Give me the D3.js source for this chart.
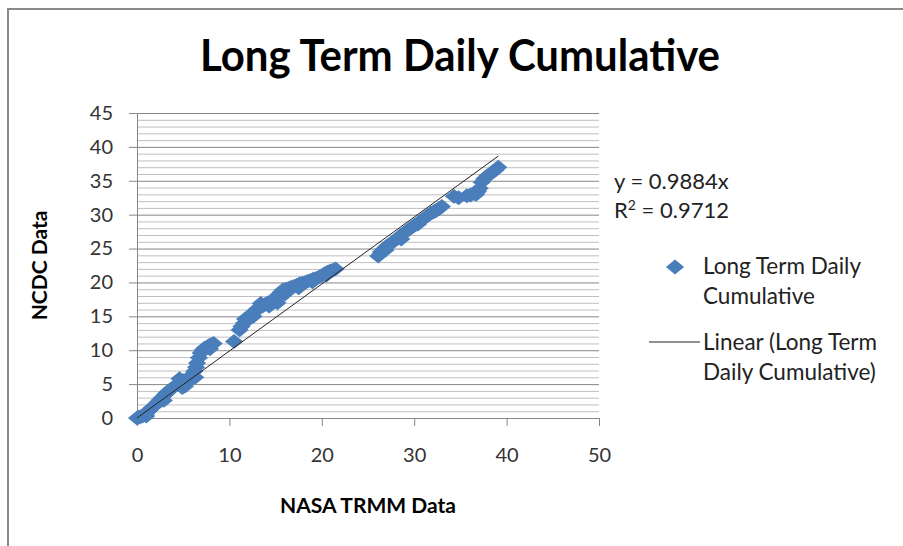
<!DOCTYPE html>
<html>
<head>
<meta charset="utf-8">
<script src="https://cdn.jsdelivr.net/npm/d3@7.9.0/dist/d3.min.js"></script>
<style>
  body { margin: 0; background: #fff; }
  svg { display: block; font-family: Lato, "Open Sans", sans-serif; }
</style>
</head>
<body>
<svg id="chart" width="903" height="546"></svg>
<script>
// values
const nasaTrmm = [0, 0.2, 0.4, 0.6, 0.9, 1.1, 1.3, 1.5, 1.8, 2.0, 2.3, 2.5, 2.7, 3.0, 3.2, 3.4, 3.7, 4.3, 4.6, 4.9,
  5.2, 5.5, 5.7, 5.9, 6.2, 6.4, 6.5, 6.7, 6.9, 7.1, 7.3, 7.6, 7.8, 8.1, 8.3, 10.5, 11.1, 11.3, 11.6, 11.9,
  12.1, 12.4, 12.7, 13.0, 13.3, 13.6, 13.9, 14.2, 14.5, 14.8, 15.1, 15.3, 15.6, 15.8, 16.1, 16.4, 16.7, 17.0, 17.3, 17.6,
  17.9, 18.2, 18.5, 18.8, 19.1, 19.4, 19.7, 20.0, 20.3, 20.6, 20.9, 21.2, 21.5, 26.1, 26.4, 26.7, 27.0, 27.3, 27.6, 27.9,
  28.2, 28.5, 28.8, 29.1, 29.4, 29.7, 30.0, 30.3, 30.6, 30.9, 31.2, 31.5, 31.8, 32.1, 32.4, 32.7, 33.0, 34.3, 34.8, 35.7,
  36.1, 36.5, 36.9, 37.1, 37.3, 37.6, 37.9, 38.2, 38.5, 38.8, 39.1,
  1.0, 2.9, 5.0, 6.3, 7.9, 11.7, 12.6, 13.4, 14.3, 15.2, 16.0, 17.5, 19.0, 20.5, 26.9, 28.6, 30.4, 32.3, 36.7];
const ncdc = [0, 0.1, 0.2, 0.3, 0.5, 0.8, 1.1, 1.4, 1.7, 2.0, 2.4, 2.7, 3.0, 3.4, 3.7, 3.9, 4.3, 4.9, 5.8, 4.5,
  4.7, 5.3, 5.8, 6.3, 6.9, 7.5, 8.1, 8.9, 9.6, 10.0, 10.3, 10.5, 10.7, 10.9, 11.0, 11.3, 13.0, 13.5, 14.0, 14.4,
  14.8, 15.3, 15.7, 16.1, 16.3, 16.5, 16.8, 17.0, 17.2, 17.4, 17.7, 18.2, 18.6, 18.9, 19.0, 19.1, 19.3, 19.4, 19.6, 19.8,
  19.9, 20.0, 20.2, 20.3, 20.5, 20.6, 20.8, 21.0, 21.3, 21.5, 21.7, 21.8, 22.0, 23.9, 24.5, 24.9, 25.3, 25.6, 25.9, 26.2,
  26.5, 26.9, 27.2, 27.5, 27.8, 28.1, 28.4, 28.6, 29.0, 29.3, 29.6, 29.9, 30.2, 30.4, 30.6, 30.9, 31.2, 32.7, 32.5, 32.8,
  32.9, 33.1, 33.4, 33.9, 34.8, 35.3, 35.7, 36.0, 36.3, 36.6, 37.0,
  0.3, 2.6, 5.5, 6.0, 10.2, 14.6, 15.0, 16.9, 16.5, 17.0, 18.3, 19.2, 20.1, 21.1, 24.8, 26.4, 28.6, 30.6, 33.0];
const xTicks = [0, 10, 20, 30, 40, 50];
const yTicks = [0, 5, 10, 15, 20, 25, 30, 35, 40, 45];
const slope = 0.9884;
const rSquared = 0.9712;
const seriesName = 'Long Term Daily Cumulative';

const points = nasaTrmm.map((x, i) => ({ x, y: ncdc[i] }));

const svg = d3.select('#chart');
const blue = '#4a7ebb';

const x = d3.scaleLinear().domain([0, 50]).range([137, 599]);
const y = d3.scaleLinear().domain([0, 45]).range([418, 113]);

// chart frame (only left and top edges show)
svg.append('path')
  .attr('d', 'M8,546V9H903')
  .attr('fill', 'none')
  .attr('stroke', '#8a8a8a')
  .attr('stroke-width', 2);

// minor gridlines every 1 unit, major every 5
svg.append('g')
  .attr('transform', `translate(${x(0)},0)`)
  .call(d3.axisLeft(y).tickValues(y.ticks(45).filter(d => d % 5 !== 0)).tickSize(-(x(50) - x(0))).tickFormat(''))
  .call(g => g.select('.domain').remove())
  .call(g => g.selectAll('line').attr('stroke', '#bfbfbf'));

svg.append('g')
  .attr('transform', `translate(${x(0)},0)`)
  .call(d3.axisLeft(y).tickValues(yTicks.slice(1)).tickSize(-(x(50) - x(0))).tickFormat(''))
  .call(g => g.select('.domain').remove())
  .call(g => g.selectAll('line').attr('stroke', '#868686'));

// y axis
svg.append('g')
  .attr('transform', `translate(${x(0)},0)`)
  .call(d3.axisLeft(y).tickValues(yTicks).tickSize(8).tickSizeOuter(0).tickPadding(16))
  .call(g => g.select('.domain').attr('stroke', '#868686'))
  .call(g => g.selectAll('line').attr('stroke', '#868686'))
  .call(g => g.selectAll('text').attr('fill', '#333').style('font-size', '20px').style('font-family', 'Lato'));

// x axis
svg.append('g')
  .attr('transform', `translate(0,${y(0)})`)
  .call(d3.axisBottom(x).tickValues(xTicks).tickSize(8).tickSizeOuter(0).tickPadding(22))
  .call(g => g.select('.domain').attr('stroke', '#868686'))
  .call(g => g.selectAll('line').attr('stroke', '#868686'))
  .call(g => g.selectAll('text').attr('fill', '#333').style('font-size', '20px').style('font-family', 'Lato'));

// markers
const diamond = d3.symbol(d3.symbolSquare, 165)();
svg.append('g')
  .selectAll('path')
  .data(points)
  .join('path')
  .attr('d', diamond)
  .attr('transform', d => `translate(${x(d.x)},${y(d.y)}) scale(1,0.82) rotate(45)`)
  .attr('fill', blue);

// linear trendline through origin
const xMax = d3.max(points, d => d.x);
svg.append('line')
  .attr('x1', x(0)).attr('y1', y(0))
  .attr('x2', x(xMax)).attr('y2', y(slope * xMax))
  .attr('stroke', '#222')
  .attr('stroke-width', 1);

// title
svg.append('text')
  .attr('x', 460).attr('y', 71)
  .attr('text-anchor', 'middle')
  .attr('textLength', 520).attr('lengthAdjust', 'spacingAndGlyphs')
  .style('font-size', '44px').style('font-weight', 'bold')
  .text(seriesName);

// axis titles
svg.append('text')
  .attr('x', (x(0) + x(50)) / 2).attr('y', 513)
  .attr('text-anchor', 'middle')
  .style('font-size', '21px').style('font-weight', 'bold')
  .text('NASA TRMM Data');

svg.append('text')
  .attr('transform', `translate(47,${(y(0) + y(45)) / 2}) rotate(-90)`)
  .attr('text-anchor', 'middle')
  .style('font-size', '21px').style('font-weight', 'bold')
  .text('NCDC Data');

// trendline equation
const eq = svg.append('text').style('font-size', '22px').attr('fill', '#222');
eq.append('tspan').attr('x', 614).attr('y', 189).text(`y = ${slope}x`);
const r2 = eq.append('tspan').attr('x', 614).attr('y', 218);
r2.append('tspan').text('R');
r2.append('tspan').attr('dy', -8).style('font-size', '14px').text('2');
r2.append('tspan').attr('dy', 8).text(` = ${rSquared}`);

// legend
const legend = svg.append('g').style('font-size', '22.5px').attr('fill', '#222');
legend.append('path')
  .attr('d', diamond)
  .attr('transform', 'translate(675,267) scale(1,0.82) rotate(45)')
  .attr('fill', blue);
legend.append('text').attr('x', 703).attr('y', 274).text('Long Term Daily');
legend.append('text').attr('x', 703).attr('y', 304).text('Cumulative');
legend.append('line')
  .attr('x1', 649).attr('x2', 700).attr('y1', 342).attr('y2', 342)
  .attr('stroke', '#222').attr('stroke-width', 1);
legend.append('text').attr('x', 703).attr('y', 350).text('Linear (Long Term');
legend.append('text').attr('x', 703).attr('y', 380).text('Daily Cumulative)');
</script>
</body>
</html>
